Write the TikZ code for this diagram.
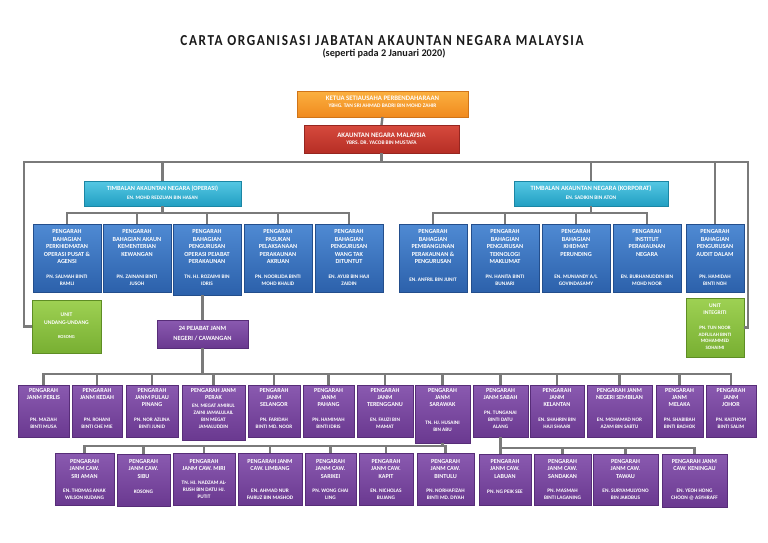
\documentclass[tikz,border=0pt]{standalone}
\usepackage{fontspec}
\setmainfont{Carlito}
\newfontfamily\titlefam[LetterSpace=12]{Carlito}
\usetikzlibrary{shadows}
\definecolor{linec}{HTML}{7A7A7A}
\definecolor{oT}{HTML}{FBB040}\definecolor{oB}{HTML}{F08A1E}\definecolor{oD}{HTML}{D07418}
\definecolor{rT}{HTML}{D64A3D}\definecolor{rB}{HTML}{B62E25}\definecolor{rD}{HTML}{962620}
\definecolor{cT}{HTML}{55C8E4}\definecolor{cB}{HTML}{229FC2}\definecolor{cD}{HTML}{1B86A4}
\definecolor{bT}{HTML}{4F8AD3}\definecolor{bB}{HTML}{2C61AB}\definecolor{bD}{HTML}{234E8C}
\definecolor{gT}{HTML}{9ED153}\definecolor{gB}{HTML}{78AF32}\definecolor{gD}{HTML}{5E8D24}
\definecolor{pT}{HTML}{8A5AB0}\definecolor{pB}{HTML}{6A3990}\definecolor{pD}{HTML}{572D78}
\definecolor{ink}{HTML}{1A1A1A}
\tikzset{
  conn/.style={draw=linec, line width=2.4pt},
  basebox/.style={rectangle, line width=0.4pt,
    drop shadow={shadow xshift=1.3pt, shadow yshift=-1.3pt, opacity=0.35, fill=black}},
  orangebox/.style={basebox, draw=oD, top color=oT, bottom color=oB},
  redbox/.style={basebox, draw=rD, top color=rT, bottom color=rB},
  cyanbox/.style={basebox, draw=cD, top color=cT, bottom color=cB},
  bluebox/.style={basebox, draw=bD, top color=bT, bottom color=bB},
  greenbox/.style={basebox, draw=gD, top color=gT, bottom color=gB},
  purplebox/.style={basebox, draw=pD, top color=pT, bottom color=pB},
  wt/.style={text=white, align=center},
}
\newcommand{\ob}[8]{%
  \node[#2, minimum width={#5pt-#3pt}, minimum height={#6pt-#4pt}] (#1) at ({(#3+#5)/2},{(#4+#6)/2}) {};
  \node[tt, anchor=north] (#1-t) at ({(#3+#5)/2},\ttop) {#7};
  \node[nt] (#1-n) at ({(#3+#5)/2},\ncen) {#8};}
\begin{document}
\begin{tikzpicture}[x=1pt,y=-1pt, every node/.style={inner sep=0pt, outer sep=0pt}]
\useasboundingbox (0,0) rectangle (768,543);
\fill[white] (0,0) rectangle (768,543);

% headings
\node[text=ink] (title) at (382,40.5) {\resizebox{403pt}{10pt}{\titlefam\bfseries CARTA ORGANISASI JABATAN AKAUNTAN NEGARA MALAYSIA}};
\node[text=ink] (subtitle) at (384,54) {\resizebox{123pt}{!}{\bfseries (seperti pada 2 Januari 2020)}};

% top boxes
\node[orangebox, minimum width=171pt, minimum height=26pt] (ketua) at (382.5,104) {};
\node[wt, font=\bfseries\fontsize{6.8}{8}\selectfont] (ketua-t) at (382.5,98.5) {KETUA SETIAUSAHA PERBENDAHARAAN};
\node[wt, font=\bfseries\fontsize{5.4}{7}\selectfont] (ketua-n) at (382.5,106) {YBHG. TAN SRI AHMAD BADRI BIN MOHD ZAHIR};

\node[redbox, minimum width=155pt, minimum height=28pt] (akaun) at (381.5,139) {};
\node[wt, font=\bfseries\fontsize{6.8}{8}\selectfont] (akaun-t) at (381.5,135) {AKAUNTAN NEGARA MALAYSIA};
\node[wt, font=\bfseries\fontsize{5.4}{7}\selectfont] (akaun-n) at (381.5,143) {YBRS. DR. YACOB BIN MUSTAFA};

\node[cyanbox, minimum width=157pt, minimum height=25pt] (tbo) at (162.5,193.5) {};
\node[wt, font=\bfseries\fontsize{6.3}{8}\selectfont] (tbo-t) at (162.5,189) {TIMBALAN AKAUNTAN NEGARA (OPERASI)};
\node[wt, font=\bfseries\fontsize{5.2}{7}\selectfont] (tbo-n) at (162.5,197.5) {EN. MOHD REDZUAN BIN HASAN};

\node[cyanbox, minimum width=154pt, minimum height=25pt] (tbk) at (591,193.5) {};
\node[wt, font=\bfseries\fontsize{6.5}{8}\selectfont] (tbk-t) at (591,189) {TIMBALAN AKAUNTAN NEGARA (KORPORAT)};
\node[wt, font=\bfseries\fontsize{5.4}{7}\selectfont] (tbk-n) at (591,197.5) {EN. SADIKIN BIN ATON};

% bahagian row
\tikzset{tt/.style={wt, font=\bfseries\fontsize{6.2}{7.5}\selectfont},
         nt/.style={wt, font=\bfseries\fontsize{5.3}{6.6}\selectfont}}
\def\ttop{229.6}\def\ncen{280}
\ob{b1}{bluebox}{33}{224}{101}{292}{PENGARAH\\BAHAGIAN\\PERKHIDMATAN\\OPERASI PUSAT \&\\AGENSI}{PN. SALMAH BINTI\\RAMLI}
\ob{b2}{bluebox}{103}{224}{171}{292}{PENGARAH\\BAHAGIAN AKAUN\\KEMENTERIAN\\KEWANGAN}{PN. ZAINANI BINTI\\JUSOH}
\ob{b3}{bluebox}{173}{224}{241}{295}{PENGARAH\\BAHAGIAN\\PENGURUSAN\\OPERASI PEJABAT\\PERAKAUNAN}{TN. HJ. ROZAIMI BIN\\IDRIS}
\ob{b4}{bluebox}{244}{224}{312}{292}{PENGARAH\\PASUKAN\\PELAKSANAAN\\PERAKAUNAN\\AKRUAN}{PN. NOORLIDA BINTI\\MOHD KHALID}
\ob{b5}{bluebox}{315}{224}{383}{292}{PENGARAH\\BAHAGIAN\\PENGURUSAN\\WANG TAK\\DITUNTUT}{EN. AYUB BIN HAJI\\ZAIDIN}
\ob{k1}{bluebox}{399}{224}{467}{292}{PENGARAH\\BAHAGIAN\\PEMBANGUNAN\\PERAKAUNAN \&\\PENGURUSAN}{EN. ANFRIL BIN JUNIT}
\ob{k2}{bluebox}{471}{224}{539}{292}{PENGARAH\\BAHAGIAN\\PENGURUSAN\\TEKNOLOGI\\MAKLUMAT}{PN. HANITA BINTI\\BUNJARI}
\ob{k3}{bluebox}{542}{224}{610}{292}{PENGARAH\\BAHAGIAN\\KHIDMAT\\PERUNDING}{EN. MUNIANDY A/L\\GOVINDASAMY}
\ob{k4}{bluebox}{613}{224}{681}{292}{PENGARAH\\INSTITUT\\PERAKAUNAN\\NEGARA}{EN. BURHANUDDIN BIN\\MOHD NOOR}
\ob{k5}{bluebox}{686}{224}{744}{292}{PENGARAH\\BAHAGIAN\\PENGURUSAN\\AUDIT DALAM}{PN. HAMIDAH\\BINTI NOH}

% green units and 24 pejabat
\node[greenbox, minimum width=69pt, minimum height=53pt] (uu) at (66.5,326.5) {};
\node[wt, font=\bfseries\fontsize{5.6}{8}\selectfont] (uu-t) at (66.5,319) {UNIT\\UNDANG-UNDANG};
\node[wt, font=\bfseries\fontsize{4.6}{6}\selectfont] (uu-n) at (66.5,337) {KOSONG};
\node[greenbox, minimum width=58pt, minimum height=59pt] (ui) at (715,327.5) {};
\node[wt, font=\bfseries\fontsize{5.6}{7.2}\selectfont] (ui-t) at (715,309.5) {UNIT\\INTEGRITI};
\node[wt, font=\bfseries\fontsize{5}{6.7}\selectfont] (ui-n) at (715,338) {PN. TUN NOOR\\ADFLILAH BINTI\\MOHAMMED\\SOHAIMI};
\node[purplebox, minimum width=91pt, minimum height=28pt] (pej) at (202.5,334) {};
\node[wt, font=\bfseries\fontsize{6.4}{9.5}\selectfont] (pej-t) at (202.5,333.5) {24 PEJABAT JANM\\NEGERI / CAWANGAN};

% state row
\tikzset{tt/.style={wt, font=\bfseries\fontsize{6.1}{7.2}\selectfont},
         nt/.style={wt, font=\bfseries\fontsize{5.2}{6.9}\selectfont}}
\def\ttop{388}\def\ncen{423.5}
\ob{s1}{purplebox}{18}{385}{69}{437}{PENGARAH\\JANM PERLIS}{PN. MAZIAH\\BINTI MUSA}
\ob{s2}{purplebox}{72}{385}{122}{437}{PENGARAH\\JANM KEDAH}{PN. ROHANI\\BINTI CHE MIE}
\ob{s3}{purplebox}{126}{385}{178}{437}{PENGARAH\\JANM PULAU\\PINANG}{PN. NOR AZLINA\\BINTI JUNID}
{\def\ncen{416}\ob{s4}{purplebox}{182}{385}{245}{440}{PENGARAH JANM\\PERAK}{EN. MEGAT AMIRUL\\ZAINI JAMALULAIL\\BIN MEGAT\\JAMALUDDIN}}
\ob{s5}{purplebox}{248}{385}{300}{437}{PENGARAH\\JANM\\SELANGOR}{PN. FARIDAH\\BINTI MD. NOOR}
\ob{s6}{purplebox}{303}{385}{354}{437}{PENGARAH\\JANM\\PAHANG}{PN. HAMIMAH\\BINTI IDRIS}
\ob{s7}{purplebox}{357}{385}{413}{437}{PENGARAH\\JANM\\TERENGGANU}{EN. FAUZI BIN\\MAMAT}
{\def\ncen{426}\ob{s8}{purplebox}{415}{385}{470}{443}{PENGARAH\\JANM\\SARAWAK}{TN. HJ. HUSAINI\\BIN ABU}}
{\def\ncen{419.5}\ob{s9}{purplebox}{473}{385}{528}{437}{PENGARAH\\JANM SABAH}{PN. TUNGANAI\\BINTI DATU\\ALANG}}
\ob{s10}{purplebox}{530}{385}{584}{437}{PENGARAH\\JANM\\KELANTAN}{EN. SHAHRIN BIN\\HAJI SHAARI}
\ob{s11}{purplebox}{587}{385}{652}{437}{PENGARAH JANM\\NEGERI SEMBILAN}{EN. MOHAMAD NOR\\AZAM BIN SABTU}
\ob{s12}{purplebox}{656}{385}{703}{437}{PENGARAH\\JANM\\MELAKA}{PN. SHABIBAH\\BINTI BACHOK}
\ob{s13}{purplebox}{706}{385}{756}{437}{PENGARAH\\JANM\\JOHOR}{PN. KALTHOM\\BINTI SALIM}

% branch row
\tikzset{tt/.style={wt, font=\bfseries\fontsize{6.1}{7.8}\selectfont},
         nt/.style={wt, font=\bfseries\fontsize{5.3}{7}\selectfont}}
\def\ttop{459}\def\ncen{494.5}
\ob{c1}{purplebox}{55}{453}{114}{505}{PENGARAH\\JANM CAW.\\SRI AMAN}{EN. THOMAS ANAK\\WILSON KUDANG}
{\def\ncen{492}\ob{c2}{purplebox}{117}{454}{170}{506}{PENGARAH\\JANM CAW.\\SIBU}{KOSONG}}
{\def\ncen{490}\ob{c3}{purplebox}{173}{453}{235}{505}{PENGARAH\\JANM CAW. MIRI}{TN. HJ. NADZAM AL-\\RUSH BIN DATU HJ.\\PUTIT}}
\ob{c4}{purplebox}{238}{453}{302}{505}{PENGARAH JANM\\CAW. LIMBANG}{EN. AHMAD NUR\\FAIRUZ BIN MASHOD}
\ob{c5}{purplebox}{305}{453}{356}{505}{PENGARAH\\JANM CAW.\\SARIKEI}{PN. WONG CHAI\\LING}
\ob{c6}{purplebox}{359}{453}{413}{505}{PENGARAH\\JANM CAW.\\KAPIT}{EN. NICHOLAS\\BUJANG}
\ob{c7}{purplebox}{417}{453}{474}{505}{PENGARAH\\JANM CAW.\\BINTULU}{PN. NORHAFIZAH\\BINTI MD. DIYAH}
{\def\ncen{492}\ob{d1}{purplebox}{479}{454}{531}{505}{PENGARAH\\JANM CAW.\\LABUAN}{PN. NG PEIK SEE}}
\ob{d2}{purplebox}{534}{454}{591}{505}{PENGARAH\\JANM CAW.\\SANDAKAN}{PN. MASMAH\\BINTI LAGANING}
\ob{d3}{purplebox}{593}{454}{658}{505}{PENGARAH\\JANM CAW.\\TAWAU}{EN. SURYAMULYONO\\BIN JAKOBUS}
\ob{d4}{purplebox}{662}{454}{727}{507}{PENGARAH JANM\\CAW. KENINGAU}{EN. YEOH HONG\\CHOON @ ASYHRAFF}

% connectors
\coordinate (tl) at (24,162);
\coordinate (tr) at (748,162);
\draw[conn] (ketua.south) -- (akaun.north);
\draw[conn] (akaun.south) -- (akaun.south |- tl);
\draw[conn] (uu.west) -| (tl) -- (tr) |- (ui.east);
\draw[conn] (tbo.north) -- (tbo.north |- tl);
\draw[conn] (tbk.north) -- (tbk.north |- tl);
\draw[conn] (k5.north) -- (k5.north |- tl);

\coordinate (ob) at (0,213);
\draw[conn] (b1.north) -- (b1.north |- ob) -- (b5.north |- ob) -- (b5.north);
\foreach \n in {b2,b3,b4} \draw[conn] (\n.north) -- (\n.north |- ob);
\draw[conn] (tbo.south) -- (tbo.south |- ob);

\draw[conn] (k1.north) -- (k1.north |- ob) -- (k4.north |- ob) -- (k4.north);
\foreach \n in {k2,k3} \draw[conn] (\n.north) -- (\n.north |- ob);
\draw[conn] (tbk.south) -- (tbk.south |- ob);

\draw[conn] (pej.north |- b3.south) -- (pej.north);

\coordinate (sb) at (0,374);
\draw[conn] (s1.north) -- (s1.north |- sb) -- (s13.north |- sb) -- (s13.north);
\foreach \n in {s2,s3,s4,s5,s6,s7,s8,s9,s10,s11,s12} \draw[conn] (\n.north) -- (\n.north |- sb);
\draw[conn] (pej.south) -- (pej.south |- sb);

\coordinate (cb) at (0,446);
\draw[conn] (c1.north) -- (c1.north |- cb) -- (c7.north |- cb) -- (c7.north);
\foreach \n in {c2,c3,c4,c5,c6} \draw[conn] (\n.north) -- (\n.north |- cb);
\draw[conn] (s8.south) -- (s8.south |- cb);

\coordinate (db) at (0,448);
\draw[conn] (s9.south) -- (s9.south |- d1.north);
\draw[conn] (s9.south |- db) -- (d4.north |- db) -- (d4.north);
\foreach \n in {d2,d3} \draw[conn] (\n.north) -- (\n.north |- db);
\end{tikzpicture}
\end{document}
